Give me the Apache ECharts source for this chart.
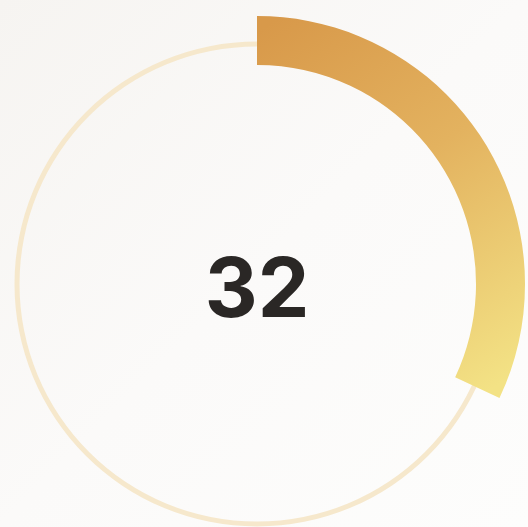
<!DOCTYPE html>
<html>
<head>
<meta charset="utf-8">
<script src="https://cdn.jsdelivr.net/npm/echarts@6/dist/echarts.min.js"></script>
<style>
html,body{margin:0;padding:0;background:#faf9f7;}
#chart{width:528px;height:527px;}
</style>
</head>
<body>
<div id="chart"></div>
<script>
var gaugeMin = 0;
var gaugeMax = 100;
var progressValue = [32];
var labelText = ['32'];

var chart = echarts.init(document.getElementById('chart'), null, {renderer: 'canvas'});
var center = [257, 284];
chart.setOption({
  animation: false,
  backgroundColor: new echarts.graphic.LinearGradient(0, 0, 1, 1, [
    {offset: 0, color: '#f6f4f1'},
    {offset: 0.5, color: '#fbfaf9'},
    {offset: 1, color: '#fdfdfc'}
  ]),
  series: [
    {
      type: 'gauge',
      center: center,
      radius: 242.5,
      startAngle: 90,
      endAngle: -270,
      min: gaugeMin,
      max: gaugeMax,
      axisLine: {lineStyle: {width: 5, color: [[1, '#f6e8cc']]}},
      pointer: {show: false},
      axisTick: {show: false},
      splitLine: {show: false},
      axisLabel: {show: false},
      detail: {show: false},
      title: {show: false},
      data: [{value: 0}]
    },
    {
      type: 'gauge',
      center: center,
      radius: 268,
      startAngle: 90,
      endAngle: -270,
      min: gaugeMin,
      max: gaugeMax,
      axisLine: {show: false, lineStyle: {width: 49}},
      progress: {
        show: true,
        width: 49,
        roundCap: false,
        itemStyle: {
          color: new echarts.graphic.LinearGradient(260, 30, 490, 390, [
            {offset: 0, color: '#d8994a'},
            {offset: 0.45, color: '#e3b25f'},
            {offset: 1, color: '#f3e285'}
          ], true)
        }
      },
      pointer: {show: false},
      axisTick: {show: false},
      splitLine: {show: false},
      axisLabel: {show: false},
      title: {show: false},
      detail: {
        show: true,
        offsetCenter: [0, 8],
        formatter: function () { return labelText[0]; },
        fontFamily: 'Inter',
        fontWeight: 700,
        fontSize: 82,
        color: '#2a2725'
      },
      data: [{value: progressValue[0]}]
    }
  ]
});
</script>
</body>
</html>
